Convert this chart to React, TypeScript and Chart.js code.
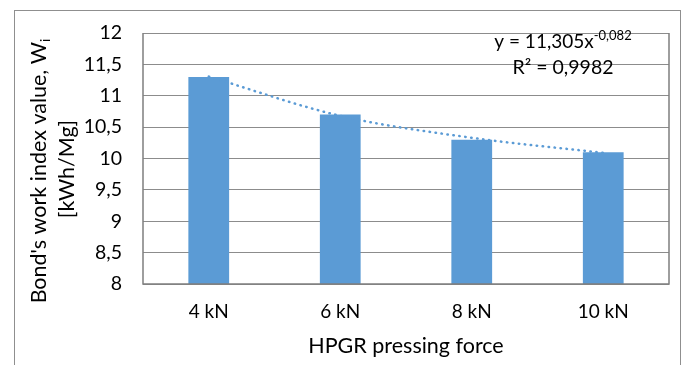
import React, { useEffect, useRef } from "react";
import { Chart, registerables } from "chart.js";

Chart.register(...registerables);

const categories = ["4 kN", "6 kN", "8 kN", "10 kN"];
const workIndex = [11.3, 10.7, 10.3, 10.1];
const trendValues = [11.305, 10.68, 10.33, 10.09];
const yTickMin = 8;
const yTickMax = 12;
const yTickStep = 0.5;
const xTitle = "HPGR pressing force";
const yTitleLine1 = "Bond's work index value, W";
const yTitleSub = "i";
const yTitleLine2 = "[kWh/Mg]";
const eqMain = "y = 11,305x";
const eqSup = "-0,082";
const eqR2 = "R² = 0,9982";

const FONT = "Lato";
const BAR = "#5B9BD5";
const GRID = "#8c8c8c";
const TEXT = "#000000";

const decor = {
  id: "decor",
  beforeDraw(chart: any) {
    const ctx = chart.ctx;
    ctx.save();
    ctx.fillStyle = "#ffffff";
    ctx.fillRect(0, 0, chart.width, chart.height);
    ctx.strokeStyle = "#8f8f8f";
    ctx.lineWidth = 1;
    ctx.strokeRect(14.5, 10.5, 666, 400);
    ctx.restore();
  },
  afterDatasetsDraw(chart: any) {
    const ctx = chart.ctx;
    const a = chart.chartArea;
    ctx.save();
    ctx.strokeStyle = "#7f7f7f";
    ctx.lineWidth = 1.5;
    ctx.beginPath();
    ctx.moveTo(a.left, a.top);
    ctx.lineTo(a.left, a.bottom);
    ctx.lineTo(a.right, a.bottom);
    ctx.lineTo(a.right, a.top);
    ctx.stroke();
    ctx.restore();
  },
  afterDraw(chart: any) {
    const ctx = chart.ctx;
    const a = chart.chartArea;
    ctx.save();
    ctx.fillStyle = TEXT;
    ctx.textBaseline = "alphabetic";

    // x title
    ctx.font = `21.5px ${FONT}`;
    ctx.textAlign = "center";
    ctx.fillText(xTitle, (a.left + a.right) / 2, 353);

    // y title (rotated)
    const cy = 171;
    ctx.save();
    ctx.translate(46, cy);
    ctx.rotate(-Math.PI / 2);
    ctx.font = `21.5px ${FONT}`;
    const w1 = ctx.measureText(yTitleLine1).width;
    ctx.font = `14px ${FONT}`;
    const w2 = ctx.measureText(yTitleSub).width;
    const start = -(w1 + w2) / 2;
    ctx.textAlign = "left";
    ctx.font = `21.5px ${FONT}`;
    ctx.fillText(yTitleLine1, start, 0);
    ctx.font = `14px ${FONT}`;
    ctx.fillText(yTitleSub, start + w1, 4);
    ctx.restore();

    ctx.save();
    ctx.translate(74, 169);
    ctx.rotate(-Math.PI / 2);
    ctx.font = `21.5px ${FONT}`;
    ctx.textAlign = "center";
    ctx.fillText(yTitleLine2, 0, 0);
    ctx.restore();

    // equation
    const ex = 563;
    ctx.font = `19px ${FONT}`;
    const m1 = ctx.measureText(eqMain).width;
    ctx.font = `13px ${FONT}`;
    const m2 = ctx.measureText(eqSup).width;
    const s = ex - (m1 + m2) / 2;
    ctx.textAlign = "left";
    ctx.font = `19px ${FONT}`;
    ctx.fillText(eqMain, s, 48);
    ctx.font = `13px ${FONT}`;
    ctx.fillText(eqSup, s + m1, 40);
    ctx.font = `19.5px ${FONT}`;
    ctx.textAlign = "center";
    ctx.fillText(eqR2, ex, 74);
    ctx.restore();
  },
};

export default function App() {
  const ref = useRef<HTMLCanvasElement>(null);
  useEffect(() => {
    if (!ref.current) return;
    const chart = new Chart(ref.current, {
      type: "bar",
      data: {
        labels: categories,
        datasets: [
          {
            type: "line",
            label: "trend",
            data: trendValues,
            borderColor: BAR,
            borderWidth: 2.5,
            borderDash: [0.5, 5.5],
            borderCapStyle: "round",
            pointRadius: 0,
            cubicInterpolationMode: "monotone",
            fill: false,
            order: 0,
          } as any,
          {
            type: "bar",
            label: "Wi",
            data: workIndex,
            backgroundColor: BAR,
            borderWidth: 0,
            barPercentage: 0.31,
            categoryPercentage: 1,
            order: 1,
          },
        ],
      },
      plugins: [decor],
      options: {
        animation: false,
        responsive: false,
        devicePixelRatio: 1,
        layout: { padding: { left: 0, top: 33, right: 17, bottom: 0 } },
        plugins: {
          legend: { display: false },
          tooltip: { enabled: false },
          title: { display: false },
        },
        scales: {
          x: {
            afterFit: (s: any) => {
              s.height = 81;
            },
            grid: { display: false, drawTicks: false },
            border: { display: false },
            ticks: {
              color: TEXT,
              padding: 16,
              font: { family: FONT, size: 19 },
            },
          },
          y: {
            min: yTickMin,
            max: yTickMax,
            afterFit: (s: any) => {
              s.width = 143;
            },
            grid: { color: GRID, lineWidth: 1, drawTicks: false },
            border: { display: false },
            ticks: {
              stepSize: yTickStep,
              color: TEXT,
              padding: 21,
              font: { family: FONT, size: 19.5 },
              callback: (v: any) => String(v).replace(".", ","),
            },
          },
        },
      },
    });
    return () => chart.destroy();
  }, []);
  return (
    <div style={{ position: "fixed", left: 0, top: 0, width: 686, height: 365, background: "#fff" }}>
      <canvas ref={ref} width={686} height={365} style={{ width: 686, height: 365 }} />
    </div>
  );
}
